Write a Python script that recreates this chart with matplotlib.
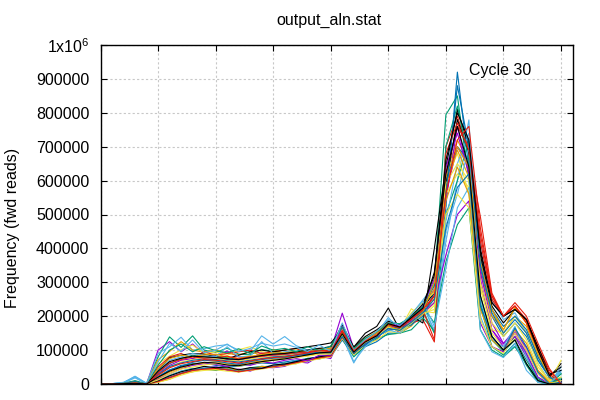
import numpy as np
import matplotlib.pyplot as plt
from matplotlib.ticker import FixedLocator, FuncFormatter

plt.rcParams['font.family'] = ['Liberation Sans', 'DejaVu Sans']
plt.rcParams['mathtext.fontset'] = 'custom'
plt.rcParams['mathtext.rm'] = 'Liberation Sans'

# quality values 0..40, counts in thousands, one list per cycle
quality = np.arange(41)
cycles = [
    [0,0,1,3,0, 100,125,95,118,88,85,97,80,76,92,85, 78,92,84,96,100,209,105,128,146,172,162,182,205,262, 560,700,640,300,160,118,152,108,38,4,10],
    [0,0,2,6,0, 80,139,108,142,100,93,106,88,86,102,96, 88,86,96,101,95,150,95,122,138,162,172,188,222,300, 794,850,600,260,140,100,140,88,18,0,30],
    [0,1,4,23,2, 90,110,138,100,104,112,116,100,96,142,118, 140,113,100,106,90,140,62,122,150,196,160,192,238,152, 420,600,779,200,110,88,112,58,18,0,40],
    [0,0,2,8,0, 72,96,125,100,94,101,90,86,95,85,102, 90,96,88,102,105,160,100,116,139,176,150,171,210,252, 620,720,650,360,220,150,200,170,80,20,0],
    [0,0,1,3,0, 60,82,101,115,90,95,84,101,110,95,90, 94,101,95,104,92,175,98,126,145,166,160,222,198,232, 600,680,560,290,150,108,132,100,40,10,5],
    [0,0,2,6,0, 20,40,55,60,62,55,50,52,58,62,60, 65,70,75,80,80,130,85,110,125,150,150,175,200,270, 520,920,640,340,200,140,180,140,70,20,0],
    [0,0,1,3,0, 50,80,90,75,95,85,90,95,100,90,95, 100,105,90,95,95,140,90,115,140,160,165,180,190,124, 700,790,680,493,268,200,230,180,100,30,0],
    [0,0,1,2,0, 40,77,85,90,88,80,75,85,95,100,95, 100,105,110,115,121,160,109,150,170,224,160,200,180,400, 640,810,700,400,240,200,220,190,100,20,60],
    [0,0,1,4,0, 8,18,30,40,45,52,40,44,38,50,48, 52,66,62,82,75,150,88,124,130,178,152,196,222,280, 540,760,620,310,160,110,140,80,10,0,5],
    [0,0,2,5,0, 10,25,38,46,44,40,46,36,48,52,50, 62,60,76,74,82,135,80,112,134,146,150,160,195,158, 500,600,720,230,110,85,120,55,5,0,20],
    [0,1,3,18,1, 12,25,38,45,48,50,44,40,45,50,55, 60,70,66,80,88,150,92,120,150,182,160,205,248,290, 480,650,740,420,250,190,210,150,60,10,40],
    [0,0,2,6,0, 6,14,30,36,44,42,48,40,42,52,50, 56,62,70,76,85,140,95,120,140,165,170,185,205,240, 580,690,610,330,200,160,225,180,90,15,0],
    [0,0,1,4,0, 5,14,26,36,40,42,38,35,40,44,50, 54,60,68,74,80,135,86,115,130,155,150,175,215,210, 560,620,580,280,160,150,200,150,60,5,70],
    [0,0,2,5,0, 9,20,32,41,46,47,43,37,43,46,52, 57,68,70,82,84,145,98,114,140,158,164,174,212,300, 600,700,660,370,220,170,200,160,80,20,10],
    [0,0,1,4,0, 7,19,31,40,44,46,42,36,41,46,51, 56,63,70,77,82,138,90,120,140,170,165,190,215,260, 620,760,700,440,260,200,230,190,110,40,0],
    [0,0,1,3,0, 10,24,36,44,52,48,50,42,48,46,56, 59,66,74,80,86,150,100,125,145,175,170,195,225,270, 590,780,680,380,230,180,220,190,110,30,40],
    [0,0,1,3,0, 30,55,70,75,80,78,72,70,76,80,85, 85,90,92,98,98,165,104,130,150,180,170,200,230,310, 640,740,620,330,180,120,160,100,30,0,0],
    [0,0,2,6,0, 35,60,75,85,80,82,78,72,78,84,88, 90,92,96,100,100,155,102,128,148,175,168,190,215,150, 700,820,660,240,130,95,130,70,15,0,30],
    [0,1,4,22,2, 40,70,80,90,84,80,110,80,82,125,90, 95,98,100,102,88,145,66,110,140,160,150,185,230,160, 450,560,700,250,130,110,170,80,20,0,50],
    [0,0,2,7,0, 45,75,85,80,86,88,80,76,82,86,92, 92,96,98,104,104,170,106,135,155,180,165,205,225,280, 610,700,640,360,220,160,225,180,90,20,0],
    [0,0,1,4,0, 25,50,65,72,78,76,70,68,74,79,82, 84,88,90,96,94,160,100,128,146,168,160,210,240,270, 590,650,600,300,180,140,180,130,50,10,20],
    [0,0,2,6,0, 28,52,62,70,74,72,68,65,70,75,80, 82,86,90,94,92,150,96,122,142,170,165,190,225,290, 560,880,700,350,210,150,190,150,70,20,0],
    [0,0,1,3,0, 33,62,72,80,76,78,82,74,80,82,86, 88,92,95,99,98,158,103,128,150,172,168,192,218,130, 680,770,690,420,250,200,230,180,100,30,0],
    [0,0,1,2,0, 38,66,76,82,80,78,74,72,78,84,88, 90,95,100,105,110,175,108,140,160,185,175,200,235,320, 660,800,720,390,240,200,220,190,100,25,50],
    [0,0,1,2,0, 15,30,45,55,60,58,52,60,55,65,62, 70,75,68,85,85,170,95,118,150,165,175,185,210,240, 380,500,540,180,110,95,150,90,20,0,0],
    [0,0,2,10,0, 55,100,118,95,110,98,92,104,90,112,100, 105,95,110,98,112,168,104,135,152,180,178,198,228,180, 360,470,520,160,100,80,110,60,10,0,15],
    [0,1,5,20,1, 65,120,96,130,92,100,118,96,105,120,112, 118,108,96,115,96,180,100,130,155,190,172,205,245,170, 340,520,580,159,95,78,120,40,5,0,35],
    [0,0,2,6,0, 18,35,48,58,62,66,60,56,64,68,72, 76,80,84,90,90,150,96,125,150,172,158,182,212,300, 540,640,560,220,130,100,160,120,40,5,0],
    [0,0,1,5,0, 12,30,44,50,56,60,58,52,60,64,70, 74,78,82,88,88,145,92,122,140,168,155,180,208,220, 500,560,520,190,110,90,150,100,30,0,10],
    [0,0,2,7,0, 22,42,52,64,70,68,62,58,66,72,76, 78,84,88,92,92,140,90,118,138,164,158,182,210,250, 460,580,620,230,140,100,165,110,35,0,5],
    [0,0,1,3,0, 26,48,60,66,72,70,66,62,68,74,78, 80,86,92,98,96,155,98,126,144,176,166,190,220,260, 560,720,760,460,260,200,240,200,120,45,0],
    [0,0,1,2,0, 20,38,50,58,64,62,56,54,60,66,70, 74,80,86,92,94,148,94,124,142,178,168,196,224,330, 620,760,640,260,140,100,130,60,10,0,0],
]

# gnuplot default line colours
colors = ['#9400d3', '#009e73', '#56b4e9', '#e69f00',
          '#f0e442', '#0072b2', '#e51e10', '#000000']

fig = plt.figure(figsize=(6, 4), dpi=100)
ax = fig.add_axes([100.5/600, 16/400, 472/600, 339/400])

for i, c in enumerate(cycles):
    ax.plot(quality, np.array(c) * 1000, color=colors[i % len(colors)], lw=0.8)

ax.set_xlim(0, 41)
ax.set_ylim(0, 1e6)
ax.xaxis.set_major_locator(FixedLocator(np.arange(0, 41, 5)))
ax.yaxis.set_major_locator(FixedLocator(np.arange(0, 1000001, 100000)))
ax.xaxis.set_major_formatter(FuncFormatter(lambda v, p: ''))
ax.yaxis.set_major_formatter(FuncFormatter(
    lambda v, p: r'1x10$^{6}$' if v >= 1e6 else '%d' % v))
ax.tick_params(direction='in', length=4, width=0.8, top=True, right=True,
               labelsize=11.5, pad=8, colors='black')
ax.grid(True, color='#c8c8c8', linestyle=(0, (2, 2)), lw=0.8)
ax.set_axisbelow(True)
for s in ax.spines.values():
    s.set_linewidth(1.0)

fig.text(329/600, 1 - 20/400, 'output_aln.stat', ha='center', va='center', fontsize=11.5)
fig.text(13/600, 1 - 228/400, 'Frequency (fwd reads)', rotation=90,
         ha='center', va='center', fontsize=11.5)
ax.text(0.78, 0.925, 'Cycle 30', transform=ax.transAxes, fontsize=11.5,
        ha='left', va='center')

fig.savefig('out.png', dpi=100)
